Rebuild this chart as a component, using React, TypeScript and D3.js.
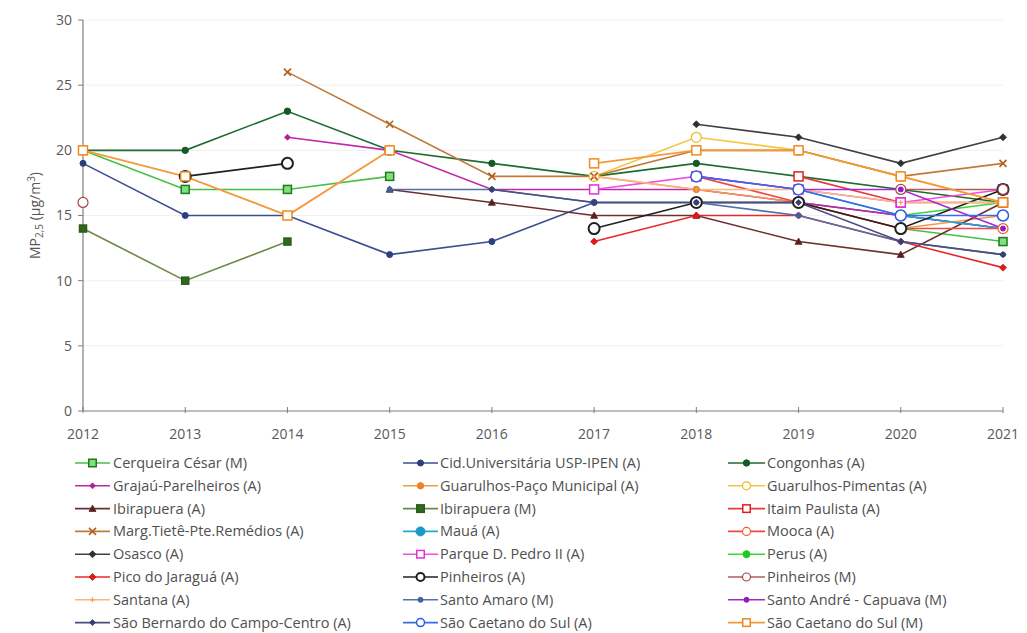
import React from "react";
import * as d3 from "d3";

const years = [2012, 2013, 2014, 2015, 2016, 2017, 2018, 2019, 2020, 2021];
const yTicks = [0, 5, 10, 15, 20, 25, 30];

const N = null;
const cerqueira = [20, 17, 17, 18, N, N, N, N, 14, 13];
const cidUniv = [19, 15, 15, 12, 13, 16, 16, 16, 15, 14];
const congonhas = [20, 20, 23, 20, 19, 18, 19, 18, 17, 16];
const grajau = [N, N, 21, 20, 17, 17, 17, 16, 15, 14];
const guarPaco = [N, N, N, N, N, 18, 17, 16, 14, 15];
const guarPimentas = [N, N, N, N, N, 18, 21, 20, 18, 16];
const ibirapueraA = [N, N, N, 17, 16, 15, 15, 13, 12, 16];
const ibirapueraM = [14, 10, 13, N, N, N, N, N, N, N];
const itaim = [N, N, N, N, N, N, N, 18, 16, 16];
const margTiete = [N, N, 26, 22, 18, 18, 20, 20, 18, 19];
const maua = [N, N, N, N, N, N, N, 17, 15, 14];
const mooca = [N, N, N, 20, N, N, 18, 16, 14, 14];
const osasco = [N, N, N, N, N, N, 22, 21, 19, 21];
const pedroII = [N, N, N, N, N, 17, 18, 17, 16, 17];
const perus = [N, N, N, N, N, N, N, N, 15, 16];
const picoJaragua = [N, N, N, N, N, 13, 15, 15, 13, 11];
const pinheirosA = [N, 18, 19, N, N, 14, 16, 16, 14, 17];
const pinheirosM = [16, N, N, N, N, N, N, N, 17, 17];
const santana = [20, 18, 15, 20, N, 18, 17, 17, 16, 16];
const santoAmaro = [N, N, N, 17, 17, 16, 16, 15, 13, 12];
const santoAndre = [N, N, N, N, N, N, 18, 17, 17, 14];
const saoBernardo = [N, N, N, N, 17, 16, 16, 16, 13, 12];
const saoCaetanoA = [N, N, N, N, N, N, 18, 17, 15, 15];
const saoCaetanoM = [20, 18, 15, 20, N, 19, 20, 20, 18, 16];

const seriesNames = [
  "Cerqueira César (M)", "Cid.Universitária USP-IPEN (A)", "Congonhas (A)",
  "Grajaú-Parelheiros (A)", "Guarulhos-Paço Municipal (A)", "Guarulhos-Pimentas (A)",
  "Ibirapuera (A)", "Ibirapuera (M)", "Itaim Paulista (A)",
  "Marg.Tietê-Pte.Remédios (A)", "Mauá (A)", "Mooca (A)",
  "Osasco (A)", "Parque D. Pedro II (A)", "Perus (A)",
  "Pico do Jaraguá (A)", "Pinheiros (A)", "Pinheiros (M)",
  "Santana (A)", "Santo Amaro (M)", "Santo André - Capuava (M)",
  "São Bernardo do Campo-Centro (A)", "São Caetano do Sul (A)", "São Caetano do Sul (M)",
];
const seriesValues = [
  cerqueira, cidUniv, congonhas, grajau, guarPaco, guarPimentas, ibirapueraA, ibirapueraM,
  itaim, margTiete, maua, mooca, osasco, pedroII, perus, picoJaragua, pinheirosA, pinheirosM,
  santana, santoAmaro, santoAndre, saoBernardo, saoCaetanoA, saoCaetanoM,
];

type Style = { line: string; mk: string; stroke: string; fill: string; size: number; sw?: number };
const styles: Style[] = [
  { line: "#45c045", mk: "square", stroke: "#1d7a1d", fill: "#7ee07e", size: 8 },
  { line: "#3a4f8f", mk: "circle", stroke: "#2a3f7f", fill: "#2a3f7f", size: 3 },
  { line: "#1e6b30", mk: "circle", stroke: "#145a22", fill: "#145a22", size: 3.2 },
  { line: "#c02aa8", mk: "diamond", stroke: "#b0209a", fill: "#b0209a", size: 3 },
  { line: "#f39a4a", mk: "circle", stroke: "#f0802a", fill: "#f0802a", size: 3.2 },
  { line: "#f5c542", mk: "circleOpen", stroke: "#f0b820", fill: "#ffffff", size: 5 },
  { line: "#6b3030", mk: "triangle", stroke: "#5a2020", fill: "#5a2020", size: 3.5 },
  { line: "#6d8a4a", mk: "square", stroke: "#2d5a1d", fill: "#2d6a1d", size: 7 },
  { line: "#e83a3a", mk: "squareOpen", stroke: "#e02020", fill: "#ffffff", size: 9 },
  { line: "#c07a3a", mk: "x", stroke: "#b06020", fill: "none", size: 3.5 },
  { line: "#22a8d8", mk: "circle", stroke: "#1a98c8", fill: "#1a98c8", size: 4.5 },
  { line: "#f04848", mk: "circleOpen", stroke: "#f0602a", fill: "#ffffff", size: 5 },
  { line: "#404040", mk: "diamond", stroke: "#303030", fill: "#303030", size: 3.5 },
  { line: "#f050e0", mk: "squareOpen", stroke: "#e030e0", fill: "#ffffff", size: 9 },
  { line: "#38d838", mk: "circle", stroke: "#20c820", fill: "#20c820", size: 3.5 },
  { line: "#e82a2a", mk: "diamond", stroke: "#e01818", fill: "#e01818", size: 3.5 },
  { line: "#202020", mk: "circleOpen", stroke: "#202020", fill: "#ffffff", size: 5.5, sw: 2 },
  { line: "#b85a5a", mk: "circleOpen", stroke: "#a04848", fill: "#ffffff", size: 5 },
  { line: "#f7b882", mk: "dash", stroke: "#f0a060", fill: "#f0a060", size: 2.5 },
  { line: "#4f72a8", mk: "circle", stroke: "#3f62a0", fill: "#3f62a0", size: 2.5 },
  { line: "#a828c8", mk: "circle", stroke: "#9818c0", fill: "#9818c0", size: 2.5 },
  { line: "#4a4f80", mk: "diamond", stroke: "#3a3f70", fill: "#3a3f70", size: 3 },
  { line: "#3a6ae8", mk: "circleOpen", stroke: "#2a5ae0", fill: "#ffffff", size: 5.5, sw: 1.5 },
  { line: "#f39a3a", mk: "squareOpen", stroke: "#f08a20", fill: "#ffffff", size: 9 },
];

function Marker({ x, y, s }: { x: number; y: number; s: Style }) {
  const sw = s.sw ?? 1.2;
  const r = s.size;
  switch (s.mk) {
    case "square":
    case "squareOpen":
      return <rect x={x - r / 2} y={y - r / 2} width={r} height={r} fill={s.fill} stroke={s.stroke} strokeWidth={1.5} />;
    case "circle":
      return <circle cx={x} cy={y} r={r} fill={s.fill} stroke={s.stroke} strokeWidth={1} />;
    case "circleOpen":
      return <circle cx={x} cy={y} r={r} fill={s.fill} stroke={s.stroke} strokeWidth={sw} />;
    case "diamond":
      return <path d={`M${x},${y - r}L${x + r},${y}L${x},${y + r}L${x - r},${y}Z`} fill={s.fill} stroke={s.stroke} strokeWidth={0.8} />;
    case "triangle":
      return <path d={`M${x},${y - r}L${x + r},${y + r * 0.8}L${x - r},${y + r * 0.8}Z`} fill={s.fill} stroke={s.stroke} strokeWidth={0.8} />;
    case "x":
      return <path d={`M${x - r},${y - r}L${x + r},${y + r}M${x + r},${y - r}L${x - r},${y + r}`} fill="none" stroke={s.stroke} strokeWidth={1.6} />;
    case "dash":
      return <path d={`M${x - r},${y}L${x + r},${y}M${x},${y - r}L${x},${y + r}`} stroke={s.stroke} strokeWidth={1.2} />;
    default:
      return null;
  }
}

export default function App() {
  const W = 1027, H = 633;
  const left = 83, right = 1003, top = 20, bottom = 411;
  const x = d3.scaleLinear().domain([2012, 2021]).range([left, right]);
  const y = d3.scaleLinear().domain([0, 30]).range([bottom, top]);
  const line = d3
    .line<number | null>()
    .defined((d) => d !== null)
    .x((_, i) => x(years[i]))
    .y((d) => y(d as number));

  const font = "'Open Sans', 'Noto Sans', sans-serif";
  const legendCols = [
    { lx0: 75, lx1: 110, tx: 113 },
    { lx0: 403, lx1: 438, tx: 440 },
    { lx0: 728, lx1: 765, tx: 767 },
  ];
  const legendY0 = 463, legendDy = 22.8;

  return (
    <svg width={W} height={H} style={{ position: "absolute", left: 0, top: 0, background: "#fff" }} fontFamily={font}>
      <rect x={0} y={0} width={W} height={H} fill="#fff" />
      {yTicks.map((t) => (
        <g key={t}>
          {t > 0 && <line x1={left} x2={right} y1={y(t)} y2={y(t)} stroke="#f0f0f0" strokeWidth={1} />}
          <line x1={left - 5} x2={left} y1={y(t)} y2={y(t)} stroke="#7f7f7f" />
          <text x={left - 11} y={y(t)} dy="0.35em" textAnchor="end" fontSize={14} fill="#595959">{t}</text>
        </g>
      ))}
      <line x1={left} x2={left} y1={top} y2={bottom} stroke="#7f7f7f" strokeWidth={1.2} />
      <line x1={left} x2={right} y1={bottom} y2={bottom} stroke="#7f7f7f" strokeWidth={1.2} />
      {years.map((yr) => (
        <g key={yr}>
          <line x1={x(yr)} x2={x(yr)} y1={bottom - 4} y2={bottom + 2} stroke="#7f7f7f" />
          <text x={x(yr)} y={bottom + 28} textAnchor="middle" fontSize={14} fill="#595959">{yr}</text>
        </g>
      ))}
      <text transform={`translate(40,${(top + bottom) / 2}) rotate(-90)`} textAnchor="middle" fontSize={14} fill="#595959">
        MP<tspan fontSize={10} dy={3}>2,5</tspan><tspan dy={-3}> (µg/m</tspan><tspan fontSize={10} dy={-5}>3</tspan><tspan dy={5}>)</tspan>
      </text>

      {seriesValues.map((vals, si) => (
        <path key={"l" + si} d={line(vals) || ""} fill="none" stroke={styles[si].line} strokeWidth={1.6} />
      ))}
      {seriesValues.map((vals, si) => (
        <g key={"m" + si}>
          {vals.map((v, i) => (v === null ? null : <Marker key={i} x={x(years[i])} y={y(v)} s={styles[si]} />))}
        </g>
      ))}

      {seriesNames.map((name, i) => {
        const col = legendCols[i % 3];
        const row = Math.floor(i / 3);
        const ly = legendY0 + row * legendDy;
        return (
          <g key={"lg" + i}>
            <line x1={col.lx0} x2={col.lx1} y1={ly} y2={ly} stroke={styles[i].line} strokeWidth={1.6} />
            <Marker x={(col.lx0 + col.lx1) / 2} y={ly} s={{ ...styles[i], size: styles[i].mk.startsWith("circleOpen") ? 4 : styles[i].mk.startsWith("square") ? 7.5 : styles[i].size }} />
            <text x={col.tx} y={ly} dy="0.35em" fontSize={14.5} fill="#505050">{name}</text>
          </g>
        );
      })}
    </svg>
  );
}
